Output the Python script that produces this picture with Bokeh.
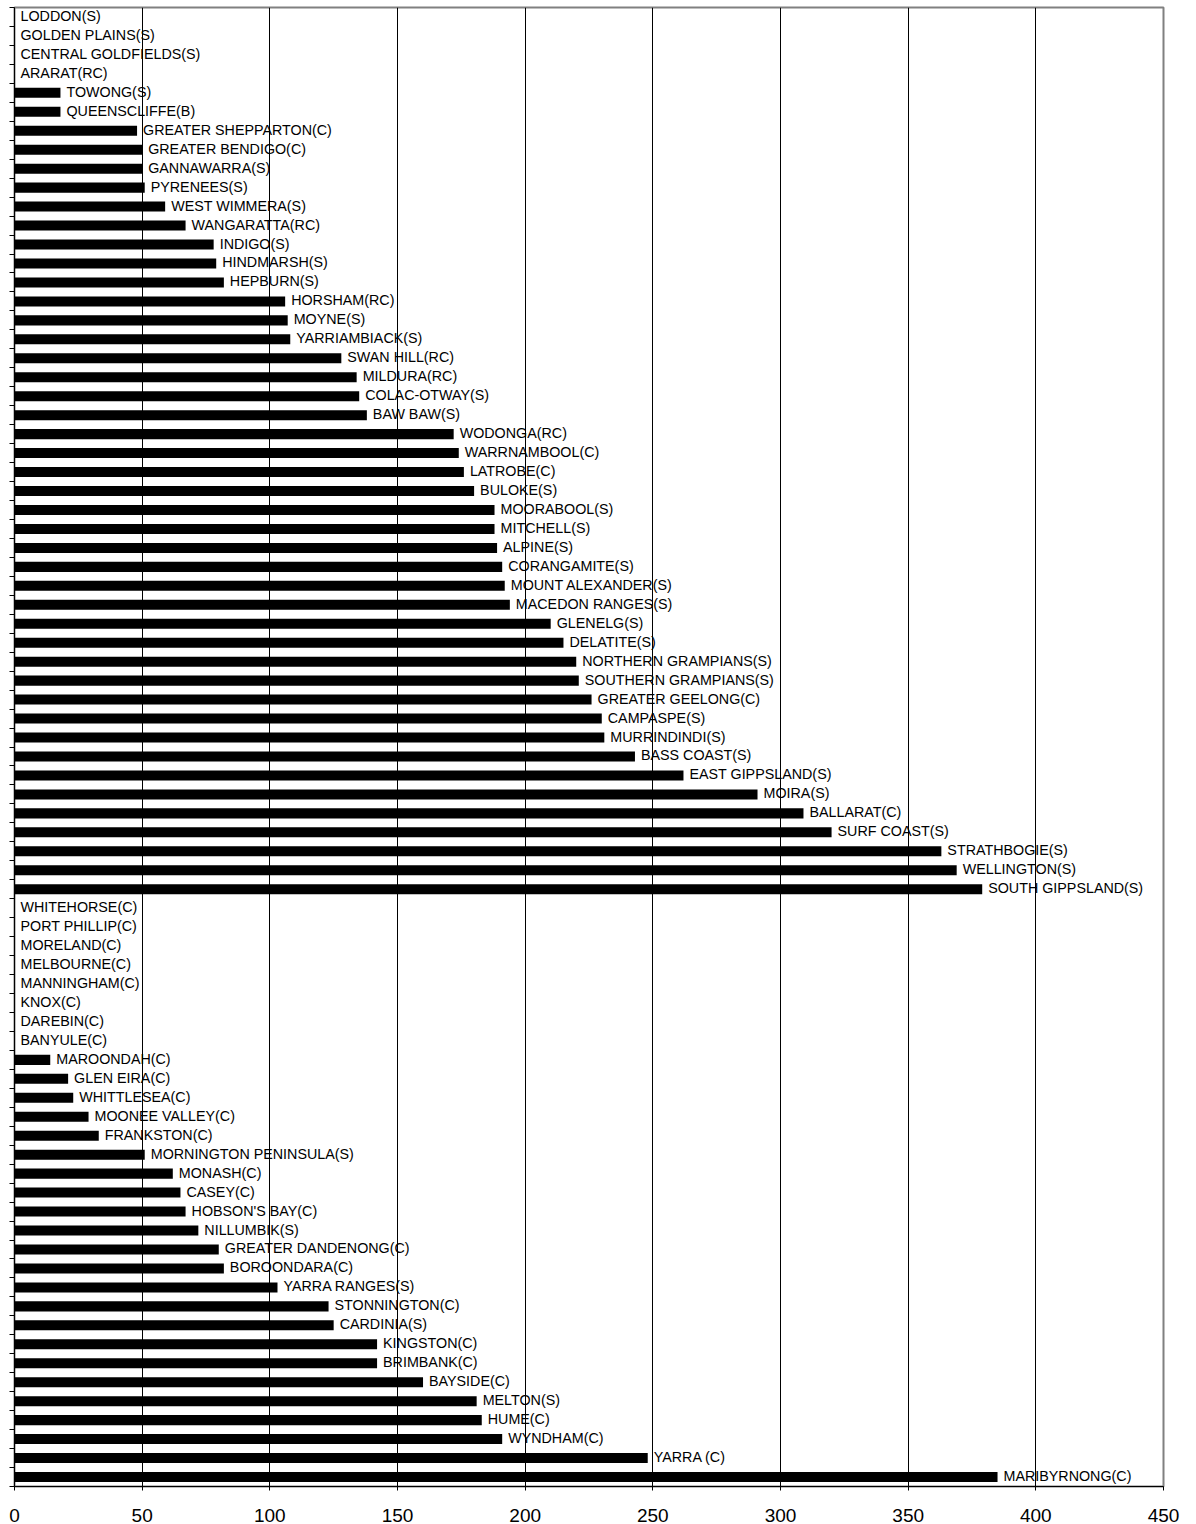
from bokeh.plotting import figure
from bokeh.models import Range1d, FixedTicker, ColumnDataSource, CustomJSTickFormatter
from bokeh.embed import file_html
from bokeh.resources import INLINE
from bokeh.core.properties import value

councils = [
    "LODDON(S)", "GOLDEN PLAINS(S)", "CENTRAL GOLDFIELDS(S)", "ARARAT(RC)",
    "TOWONG(S)", "QUEENSCLIFFE(B)", "GREATER SHEPPARTON(C)", "GREATER BENDIGO(C)",
    "GANNAWARRA(S)", "PYRENEES(S)", "WEST WIMMERA(S)", "WANGARATTA(RC)",
    "INDIGO(S)", "HINDMARSH(S)", "HEPBURN(S)", "HORSHAM(RC)", "MOYNE(S)",
    "YARRIAMBIACK(S)", "SWAN HILL(RC)", "MILDURA(RC)", "COLAC-OTWAY(S)",
    "BAW BAW(S)", "WODONGA(RC)", "WARRNAMBOOL(C)", "LATROBE(C)", "BULOKE(S)",
    "MOORABOOL(S)", "MITCHELL(S)", "ALPINE(S)", "CORANGAMITE(S)",
    "MOUNT ALEXANDER(S)", "MACEDON RANGES(S)", "GLENELG(S)", "DELATITE(S)",
    "NORTHERN GRAMPIANS(S)", "SOUTHERN GRAMPIANS(S)", "GREATER GEELONG(C)",
    "CAMPASPE(S)", "MURRINDINDI(S)", "BASS COAST(S)", "EAST GIPPSLAND(S)",
    "MOIRA(S)", "BALLARAT(C)", "SURF COAST(S)", "STRATHBOGIE(S)",
    "WELLINGTON(S)", "SOUTH GIPPSLAND(S)",
    "WHITEHORSE(C)", "PORT PHILLIP(C)", "MORELAND(C)", "MELBOURNE(C)",
    "MANNINGHAM(C)", "KNOX(C)", "DAREBIN(C)", "BANYULE(C)", "MAROONDAH(C)",
    "GLEN EIRA(C)", "WHITTLESEA(C)", "MOONEE VALLEY(C)", "FRANKSTON(C)",
    "MORNINGTON PENINSULA(S)", "MONASH(C)", "CASEY(C)", "HOBSON'S BAY(C)",
    "NILLUMBIK(S)", "GREATER DANDENONG(C)", "BOROONDARA(C)", "YARRA RANGES(S)",
    "STONNINGTON(C)", "CARDINIA(S)", "KINGSTON(C)", "BRIMBANK(C)", "BAYSIDE(C)",
    "MELTON(S)", "HUME(C)", "WYNDHAM(C)", "YARRA (C)", "MARIBYRNONG(C)",
]

counts = [
    0, 0, 0, 0,
    18, 18, 48, 50,
    50, 51, 59, 67,
    78, 79, 82, 106, 107,
    108, 128, 134, 135,
    138, 172, 174, 176, 180,
    188, 188, 189, 191,
    192, 194, 210, 215,
    220, 221, 226,
    230, 231, 243, 262,
    291, 309, 320, 363,
    369, 379,
    0, 0, 0, 0,
    0, 0, 0, 0, 14,
    21, 23, 29, 33,
    51, 62, 65, 67,
    72, 80, 82, 103,
    123, 125, 142, 142, 160,
    181, 183, 191, 248, 385,
]

x_ticks = [0, 50, 100, 150, 200, 250, 300, 350, 400, 450]
grid_ticks = [50, 100, 150, 200, 250, 300, 350, 400]

n = len(councils)
rows = list(range(n))
src = ColumnDataSource(dict(y=rows, v=counts, name=councils))

p = figure(width=1196, height=1524, output_backend="svg", toolbar_location=None,
           x_range=Range1d(0, 450), y_range=Range1d(n - 0.5, -0.5),
           min_border_left=14, min_border_right=33, min_border_top=7,
           min_border_bottom=0)

p.outline_line_color = "#808080"
p.outline_line_width = 2
p.background_fill_color = "white"
p.border_fill_color = "white"

p.hbar(y="y", left=0, right="v", height=0.53, fill_color="black",
       line_color=None, source=src)
p.text(x="v", y="y", text="name", source=src, x_offset=6, y_offset=-1,
       text_baseline="middle", text_align="left",
       text_font=value("Liberation Sans"), text_font_size="14.3px",
       text_color="black")

# x axis
p.xaxis.ticker = FixedTicker(ticks=x_ticks)
p.xaxis.major_tick_out = 4
p.xaxis.major_tick_in = 0
p.xaxis.minor_tick_line_color = None
p.xaxis.axis_line_color = "black"
p.xaxis.major_tick_line_color = "black"
p.xaxis.major_label_text_font = "Liberation Sans"
p.xaxis.major_label_text_font_size = "19px"
p.xaxis.major_label_text_color = "black"
p.xaxis.major_label_standoff = 18

# y axis: ticks at category boundaries, no labels
p.yaxis.ticker = FixedTicker(ticks=[i - 0.5 for i in range(n + 1)])
p.yaxis.formatter = CustomJSTickFormatter(code="return ''")
p.yaxis.major_tick_out = 5
p.yaxis.major_tick_in = 0
p.yaxis.minor_tick_line_color = None
p.yaxis.axis_line_color = "black"
p.yaxis.major_tick_line_color = "black"
p.yaxis.major_label_standoff = 0

p.xgrid.ticker = FixedTicker(ticks=grid_ticks)
p.xgrid.grid_line_color = "black"
p.xgrid.grid_line_width = 1
p.ygrid.grid_line_color = None

open("out.html", "w").write(file_html(p, INLINE))
